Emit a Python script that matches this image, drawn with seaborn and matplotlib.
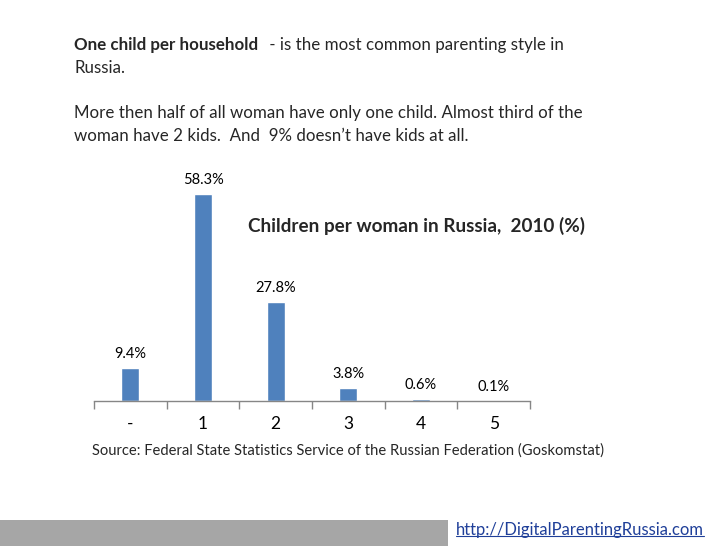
import matplotlib
matplotlib.use("Agg")
import matplotlib.pyplot as plt
import seaborn as sns
import pandas as pd
from matplotlib.patches import Rectangle

categories = ["-", "1", "2", "3", "4", "5"]
values = [9.4, 58.3, 27.8, 3.8, 0.6, 0.1]
value_labels = ["9.4%", "58.3%", "27.8%", "3.8%", "0.6%", "0.1%"]
chart_title = "Children per woman in Russia,  2010 (%)"
source_text = "Source: Federal State Statistics Service of the Russian Federation (Goskomstat)"
link_text = "http://DigitalParentingRussia.com"

sns.set_style("white")
plt.rcParams["font.family"] = ["Lato", "DejaVu Sans"]

df = pd.DataFrame({"cat": categories, "val": values})

fig = plt.figure(figsize=(7.28, 5.46), dpi=100)
ax = fig.add_axes([94/728, 145/546, 436/728, 213/546])
sns.barplot(data=df, x="cat", y="val", color="#4f81bd", width=0.25,
            saturation=1, ax=ax)
ax.set_ylim(0, 60)
ax.set_xlim(-0.5, 5.5)
for i, (v, lab) in enumerate(zip(values, value_labels)):
    ax.annotate(lab, (i, v), xytext=(0, 5), textcoords="offset points",
                ha="center", va="bottom", fontsize=10.5, color="#000000",
                annotation_clip=False)
for s in ["top", "right", "left"]:
    ax.spines[s].set_visible(False)
ax.spines["bottom"].set_color("#868686")
ax.spines["bottom"].set_linewidth(1)
ax.set_yticks([])
ax.set_xlabel("")
ax.set_ylabel("")
ax.tick_params(axis="x", which="major", length=0, labelsize=12.5, pad=11, colors="#000000")
ax.set_xticks([i - 0.5 for i in range(7)], minor=True)
ax.tick_params(axis="x", which="minor", bottom=True, length=6, width=1,
               color="#868686", direction="out")

fig.text(248/728, 1 - 226/546, chart_title, fontsize=13.6, fontweight="bold",
         ha="left", va="center")

fs = 12.2
t1 = fig.text(74/728, 1 - 45/546, "One child per household", fontsize=fs,
              fontweight="bold", ha="left", va="center")
fig.canvas.draw()
bb = t1.get_window_extent()
fig.text(bb.x1/728 + 7/728, 1 - 45/546, " - is the most common parenting style in",
         fontsize=fs, ha="left", va="center")
fig.text(74/728, 1 - 68/546, "Russia.", fontsize=fs, ha="left", va="center")
fig.text(74/728, 1 - 113/546,
         "More then half of all woman have only one child. Almost third of the",
         fontsize=fs, ha="left", va="center")
fig.text(74/728, 1 - 136/546,
         "woman have 2 kids.  And  9% doesn\u2019t have kids at all.",
         fontsize=fs, ha="left", va="center")

fig.text(92/728, 1 - 451/546, source_text, fontsize=10.6, ha="left", va="center")

fig.patches.append(Rectangle((0, 0), 448/728, 26/546, transform=fig.transFigure,
                             facecolor="#a6a6a6", edgecolor="none"))
lt = fig.text(456/728, 1 - 530/546, link_text, fontsize=12, color="#1f3f99",
              ha="left", va="center")
fig.canvas.draw()
lb = lt.get_window_extent()
fig.lines.append(plt.Line2D([lb.x0/728, lb.x1/728], [(lb.y0+2)/546, (lb.y0+2)/546],
                            transform=fig.transFigure, color="#1f3f99", linewidth=0.8))

fig.savefig("out.png", dpi=100)
